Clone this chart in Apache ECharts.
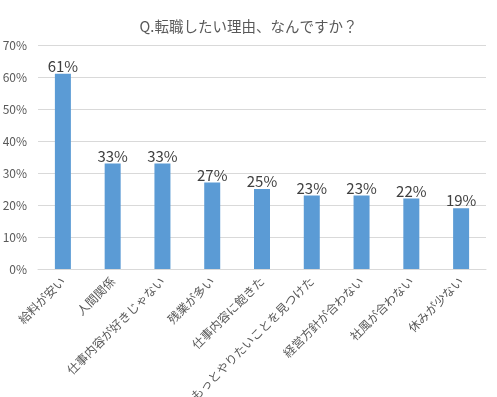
<!DOCTYPE html>
<html>
<head>
<meta charset="utf-8">
<script src="https://cdn.jsdelivr.net/npm/echarts@6/dist/echarts.min.js"></script>
<style>
  html, body { margin: 0; padding: 0; background: #fff; }
  #chart { width: 497px; height: 397px; }
</style>
</head>
<body>
<div id="chart"></div>
<script>
const categories = ['給料が安い', '人間関係', '仕事内容が好きじゃない', '残業が多い', '仕事内容に飽きた', 'もっとやりたいことを見つけた', '経営方針が合わない', '社風が合わない', '休みが少ない']
const values = [61, 33, 33, 27, 25, 23, 23, 22, 19]
const yTicks = [0, 10, 20, 30, 40, 50, 60, 70]

const font = '"Noto Sans CJK JP", "Noto Sans", sans-serif'
const chart = echarts.init(document.getElementById('chart'))
chart.setOption({
  animation: false,
  title: {
    text: 'Q.転職したい理由、なんですか？',
    left: 'center',
    top: 14,
    textStyle: { fontFamily: font, fontSize: 14.5, fontWeight: 'normal', color: '#595959' }
  },
  // keep the plot where it is, let long labels run to the edge
  grid: { left: 38, right: 11, top: 45, bottom: 128, outerBoundsMode: 'none' },
  xAxis: {
    type: 'category',
    data: categories,
    axisLine: { lineStyle: { color: '#d9d9d9' } },
    axisTick: { show: false },
    axisLabel: { rotate: 45, interval: 0, fontFamily: font, fontSize: 12, color: '#595959', margin: 10 }
  },
  yAxis: {
    type: 'value',
    min: yTicks[0],
    max: yTicks[yTicks.length - 1],
    interval: 10,
    axisLine: { show: false },
    axisTick: { show: false },
    splitLine: { lineStyle: { color: '#d9d9d9' } },
    axisLabel: { formatter: '{value}%', fontFamily: font, fontSize: 12, color: '#595959', margin: 11 }
  },
  series: [{
    type: 'bar',
    data: values,
    barWidth: 16,
    itemStyle: { color: '#5b9bd5' },
    label: {
      show: true,
      position: 'top',
      distance: 0,
      formatter: '{c}%',
      fontFamily: font,
      fontSize: 15,
      color: '#404040'
    }
  }]
})
</script>
</body>
</html>
